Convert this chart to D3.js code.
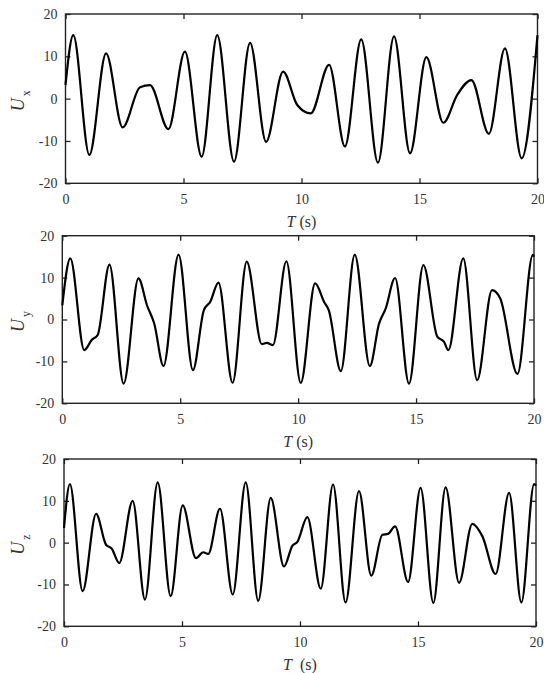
<!DOCTYPE html>
<html>
<head>
<meta charset="utf-8">
<script src="https://cdn.jsdelivr.net/npm/d3@7"></script>
<style>
  body { margin: 0; background: #fff; }
  svg { display: block; }
</style>
</head>
<body>
<div id="chart"></div>
<script>
// x ticks / y ticks
var xTicks = [0, 5, 10, 15, 20];
var yTicks = [-20, -10, 0, 10, 20];

// Ux (peaks, troughs, shoulders)
var uxT = [0, 0.33, 1.01, 1.72, 2.42, 3.16, 3.58, 4.36, 5.06, 5.77, 6.43, 7.14, 7.82, 8.5, 9.22, 9.82, 10.39, 11.17, 11.84, 12.53, 13.24, 13.92, 14.6, 15.29, 16.01, 16.6, 17.2, 17.94, 18.62, 19.33, 20];
var uxV = [3.2, 15, -13.3, 10.7, -6.8, 2.7, 3.2, -7.2, 11.1, -13.7, 15, -14.9, 13.2, -10.2, 6.4, -1.5, -3.5, 8.0, -11.3, 14.0, -15.1, 14.7, -12.9, 9.8, -5.7, 0.9, 4.4, -8.3, 11.9, -14.1, 15];

// Uy
var uyT = [0, 0.34, 0.93, 1.26, 1.5, 2.0, 2.6, 3.23, 3.59, 3.9, 4.29, 4.93, 5.54, 6.0, 6.27, 6.62, 7.22, 7.82, 8.46, 8.67, 8.93, 9.5, 10.11, 10.72, 11.1, 11.3, 11.81, 12.4, 13.04, 13.43, 13.71, 14.11, 14.7, 15.31, 15.9, 16.18, 16.37, 17.0, 17.59, 18.22, 18.57, 19.3, 19.95, 20];
var uyV = [3.4, 14.6, -7.3, -4.8, -3.7, 13.1, -15.3, 9.8, 3.4, -1.0, -11.1, 15.5, -12.1, 2.2, 4.2, 8.8, -15.1, 13.8, -5.9, -5.6, -6.1, 13.9, -15.1, 8.6, 4.2, 2.2, -12.3, 15.5, -11.1, -1.0, 2.6, 9.9, -15.3, 13.0, -4.1, -5.3, -7.3, 14.6, -14.5, 7.0, 5.0, -13.0, 15.4, 15.0];

// Uz
var uzT = [0, 0.25, 0.79, 1.36, 1.78, 2.02, 2.34, 2.91, 3.43, 3.97, 4.52, 5.03, 5.59, 5.9, 6.11, 6.61, 7.15, 7.7, 8.23, 8.76, 9.32, 9.68, 9.89, 10.31, 10.88, 11.4, 11.93, 12.5, 13.02, 13.49, 13.73, 14.03, 14.58, 15.11, 15.65, 16.17, 16.74, 17.3, 17.73, 18.29, 18.86, 19.38, 19.92, 20];
var uzV = [3.5, 14.0, -11.6, 6.9, -0.5, -1.4, -4.9, 10.0, -13.6, 14.4, -12.8, 8.9, -3.7, -2.3, -2.7, 8.1, -12.4, 14.4, -13.9, 10.7, -5.7, -0.7, 0.2, 6.1, -11.0, 13.9, -14.3, 12.3, -7.9, 1.9, 2.1, 3.9, -9.4, 13.1, -14.4, 13.2, -9.6, 4.5, 1.5, -7.5, 11.9, -14.3, 14.0, 13.6];

var serif = "'Liberation Serif', 'DejaVu Serif', serif";

var panels = [
    {t: uxT, v: uxV, sub: "x", xlab: " (s)", left: 65.5, right: 537.5, top: 14, bottom: 183.3},
    {t: uyT, v: uyV, sub: "y", xlab: " (s)", left: 62.3, right: 534, top: 235.7, bottom: 403.3},
    {t: uzT, v: uzV, sub: "z", xlab: "\u00a0\u00a0(s)", left: 64, right: 536, top: 459, bottom: 626.3}
];

var svg = d3.select("#chart").append("svg")
    .attr("width", 544)
    .attr("height", 673);

// plain hyphen minus like the original figure
var fmt = function(d) { return String(d); };

function styleAxis(g) {
    g.attr("font-family", null);
    g.select(".domain").remove();
    g.selectAll(".tick line").attr("stroke", "#222").attr("stroke-width", 1.3);
    g.selectAll(".tick text")
        .style("font-family", serif)
        .style("font-size", "14px")
        .style("fill", "#333");
}

panels.forEach(function(p) {
    var x = d3.scaleLinear().domain([0, 20]).range([p.left, p.right]);
    var y = d3.scaleLinear().domain([-20, 20]).range([p.bottom, p.top]);

    // bottom axis with labels, ticks pointing inward
    svg.append("g")
        .attr("transform", "translate(0," + p.bottom + ")")
        .call(d3.axisBottom(x).tickValues(xTicks).tickFormat(fmt).tickSizeInner(-5).tickSizeOuter(0).tickPadding(11))
        .call(styleAxis);

    // top mirror ticks
    svg.append("g")
        .attr("transform", "translate(0," + p.top + ")")
        .call(d3.axisTop(x).tickValues(xTicks).tickSizeInner(-5).tickSizeOuter(0).tickFormat(""))
        .call(styleAxis);

    // left axis
    svg.append("g")
        .attr("transform", "translate(" + p.left + ",0)")
        .call(d3.axisLeft(y).tickValues(yTicks).tickFormat(fmt).tickSizeInner(-5).tickSizeOuter(0).tickPadding(8))
        .call(styleAxis);

    // right mirror ticks
    svg.append("g")
        .attr("transform", "translate(" + p.right + ",0)")
        .call(d3.axisRight(y).tickValues(yTicks).tickSizeInner(-5).tickSizeOuter(0).tickFormat(""))
        .call(styleAxis);

    // frame
    svg.append("rect")
        .attr("x", p.left)
        .attr("y", p.top)
        .attr("width", p.right - p.left)
        .attr("height", p.bottom - p.top)
        .attr("fill", "none")
        .attr("stroke", "#222")
        .attr("stroke-width", 1.4);

    // signal
    var line = d3.line()
        .x(function(d, i) { return x(p.t[i]); })
        .y(function(d, i) { return y(p.v[i]); })
        .curve(d3.curveMonotoneX);

    svg.append("path")
        .attr("d", line(p.t))
        .attr("fill", "none")
        .attr("stroke", "#000")
        .attr("stroke-width", 2.2)
        .attr("stroke-linejoin", "round");

    // x label
    var xl = svg.append("text")
        .attr("x", (p.left + p.right) / 2)
        .attr("y", p.bottom + 44)
        .attr("text-anchor", "middle")
        .style("font-family", serif)
        .style("font-size", "16px")
        .style("fill", "#333");
    xl.append("tspan").style("font-style", "italic").text("T");
    xl.append("tspan").text(p.xlab);

    // y label
    var cy = (p.top + p.bottom) / 2;
    var yl = svg.append("text")
        .attr("transform", "translate(24," + (cy + 2) + ") rotate(-90)")
        .attr("text-anchor", "middle")
        .style("font-family", serif)
        .style("font-size", "18px")
        .style("fill", "#333");
    yl.append("tspan").style("font-style", "italic").text("U");
    yl.append("tspan").attr("dx", 2).attr("dy", 6).style("font-size", "12px").text(p.sub);
});
</script>
</body>
</html>
